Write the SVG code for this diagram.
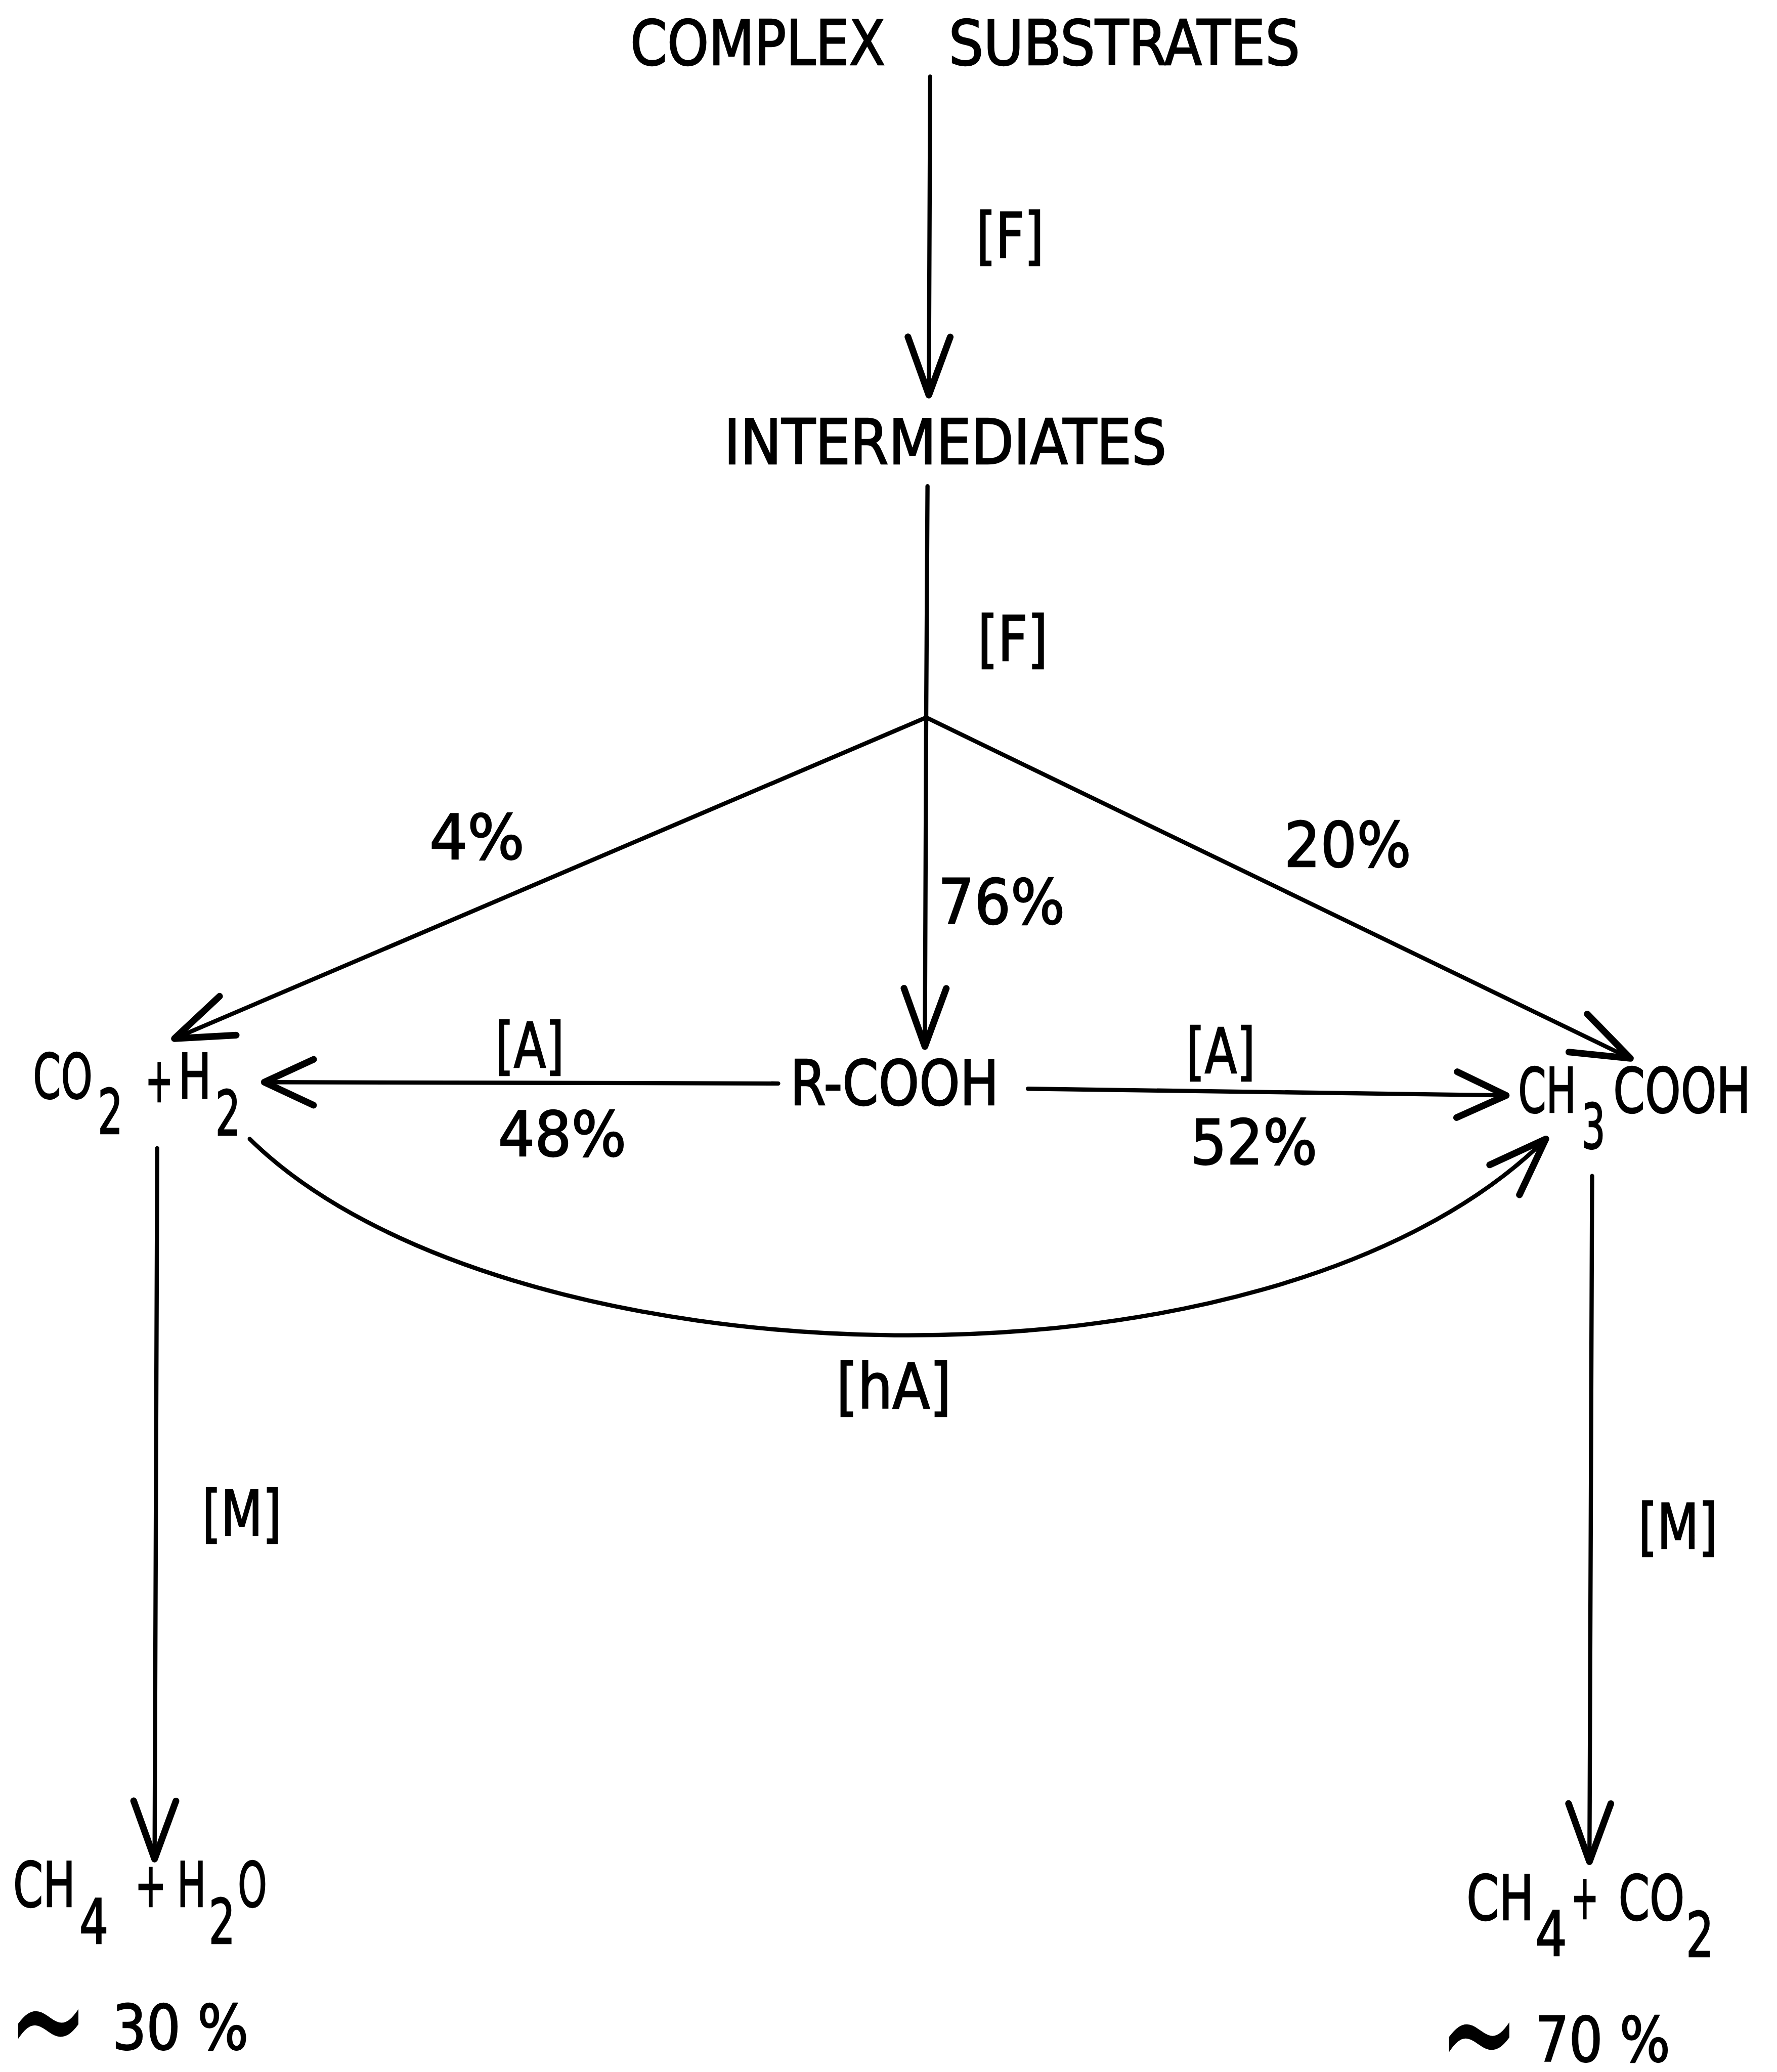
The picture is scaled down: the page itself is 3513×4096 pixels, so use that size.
<svg xmlns="http://www.w3.org/2000/svg" width="3513" height="4096" viewBox="0 0 3513 4096">
<style>
text{font-family:"DejaVu Sans Condensed","DejaVu Sans","Liberation Sans Narrow",sans-serif;font-size:47px;fill:#000;stroke:#000;stroke-width:0.9;}
.c{fill:none;stroke:#000;stroke-width:3.2;stroke-linecap:round;}
.t{font-size:60px;stroke:none;}
</style>
<defs>
<marker id="ah" markerUnits="userSpaceOnUse" orient="auto" markerWidth="60" markerHeight="60" refX="0" refY="0" viewBox="-40 -20 45 40" overflow="visible">
<path d="M-33,-12 L0,0 L-33,12" fill="none" stroke="#000" stroke-width="3.8" stroke-linecap="round" stroke-linejoin="round"/>
</marker>
<marker id="ahs" markerUnits="userSpaceOnUse" orient="auto" markerWidth="60" markerHeight="60" refX="0" refY="0" viewBox="-40 -20 45 40" overflow="visible">
<path d="M-28,-13 L0,0 L-28,13" fill="none" stroke="#000" stroke-width="3.8" stroke-linecap="round" stroke-linejoin="round"/>
</marker>
</defs>
<rect width="3513" height="4096" fill="#fff"/>
<g transform="scale(2.612)">
<g id="connectors">
<path class="c" d="M704,58 L703,299" marker-end="url(#ah)"/>
<path class="c" d="M702,368 L701,543"/>
<path class="c" d="M701,543 L132,786" marker-end="url(#ah)"/>
<path class="c" d="M701,543 L700,792" marker-end="url(#ah)"/>
<path class="c" d="M701,543 L1234,801" marker-end="url(#ah)"/>
<path class="c" d="M589,820 L200,819" marker-end="url(#ahs)"/>
<path class="c" d="M778,824 L1140,829" marker-end="url(#ahs)"/>
<path class="c" d="M189,862 C380,1050 960,1070 1170,862" marker-end="url(#ah)"/>
<path class="c" d="M119,869 L117,1407" marker-end="url(#ah)"/>
<path class="c" d="M1205,890 L1203,1409" marker-end="url(#ah)"/>
</g>
<g id="labels">
<text x="739" y="195" textLength="51" lengthAdjust="spacingAndGlyphs">[F]</text>
<text x="740" y="500" textLength="53" lengthAdjust="spacingAndGlyphs">[F]</text>
<text x="325" y="650" textLength="72" lengthAdjust="spacingAndGlyphs">4%</text>
<text x="710" y="699" textLength="96" lengthAdjust="spacingAndGlyphs">76%</text>
<text x="972" y="656" textLength="96" lengthAdjust="spacingAndGlyphs">20%</text>
<text x="375" y="808" textLength="52" lengthAdjust="spacingAndGlyphs">[A]</text>
<text x="377" y="875" textLength="97" lengthAdjust="spacingAndGlyphs">48%</text>
<text x="898" y="812" textLength="52" lengthAdjust="spacingAndGlyphs">[A]</text>
<text x="901" y="881" textLength="96" lengthAdjust="spacingAndGlyphs">52%</text>
<text x="633" y="1066" textLength="87" lengthAdjust="spacingAndGlyphs">[hA]</text>
<text x="153" y="1162" textLength="60" lengthAdjust="spacingAndGlyphs">[M]</text>
<text x="1240" y="1172" textLength="60" lengthAdjust="spacingAndGlyphs">[M]</text>
</g>
<g id="node-complex-substrates">
<text x="477" y="49" textLength="193" lengthAdjust="spacingAndGlyphs">COMPLEX</text>
<text x="718" y="49" textLength="266" lengthAdjust="spacingAndGlyphs">SUBSTRATES</text>
</g>
<g id="node-intermediates">
<text x="548" y="351" textLength="335" lengthAdjust="spacingAndGlyphs">INTERMEDIATES</text>
</g>
<g id="node-co2-h2">
<text x="25" y="831" textLength="45" lengthAdjust="spacingAndGlyphs">CO</text>
<text x="74" y="858" textLength="19" lengthAdjust="spacingAndGlyphs">2</text>
<text x="110" y="834" textLength="21" lengthAdjust="spacingAndGlyphs">+</text>
<text x="135" y="831" textLength="25" lengthAdjust="spacingAndGlyphs">H</text>
<text x="163" y="859" textLength="19" lengthAdjust="spacingAndGlyphs">2</text>
</g>
<g id="node-rcooh">
<text x="598" y="836" textLength="158" lengthAdjust="spacingAndGlyphs">R-COOH</text>
</g>
<g id="node-ch3cooh">
<text x="1149" y="842" textLength="44" lengthAdjust="spacingAndGlyphs">CH</text>
<text x="1197" y="869" textLength="18" lengthAdjust="spacingAndGlyphs">3</text>
<text x="1221" y="842" textLength="104" lengthAdjust="spacingAndGlyphs">COOH</text>
</g>
<g id="node-ch4-h2o">
<text x="10" y="1443" textLength="47" lengthAdjust="spacingAndGlyphs">CH</text>
<text x="60" y="1471" textLength="22" lengthAdjust="spacingAndGlyphs">4</text>
<text x="102" y="1443" textLength="24" lengthAdjust="spacingAndGlyphs">+</text>
<text x="134" y="1443" textLength="22" lengthAdjust="spacingAndGlyphs">H</text>
<text x="158" y="1471" textLength="20" lengthAdjust="spacingAndGlyphs">2</text>
<text x="180" y="1443" textLength="22" lengthAdjust="spacingAndGlyphs">O</text>
<text class="t" transform="translate(6,1527) scale(1.35,2.2)" x="0" y="21">~</text>
<text x="85" y="1551" textLength="103" lengthAdjust="spacingAndGlyphs">30 %</text>
</g>
<g id="node-ch4-co2">
<text x="1110" y="1453" textLength="51" lengthAdjust="spacingAndGlyphs">CH</text>
<text x="1162" y="1480" textLength="24" lengthAdjust="spacingAndGlyphs">4</text>
<text x="1189" y="1452" textLength="21" lengthAdjust="spacingAndGlyphs">+</text>
<text x="1225" y="1453" textLength="50" lengthAdjust="spacingAndGlyphs">CO</text>
<text x="1276" y="1481" textLength="21" lengthAdjust="spacingAndGlyphs">2</text>
<text class="t" transform="translate(1089,1537) scale(1.35,2.2)" x="0" y="21">~</text>
<text x="1162" y="1560" textLength="102" lengthAdjust="spacingAndGlyphs">70 %</text>
</g>
</g>
</svg>
